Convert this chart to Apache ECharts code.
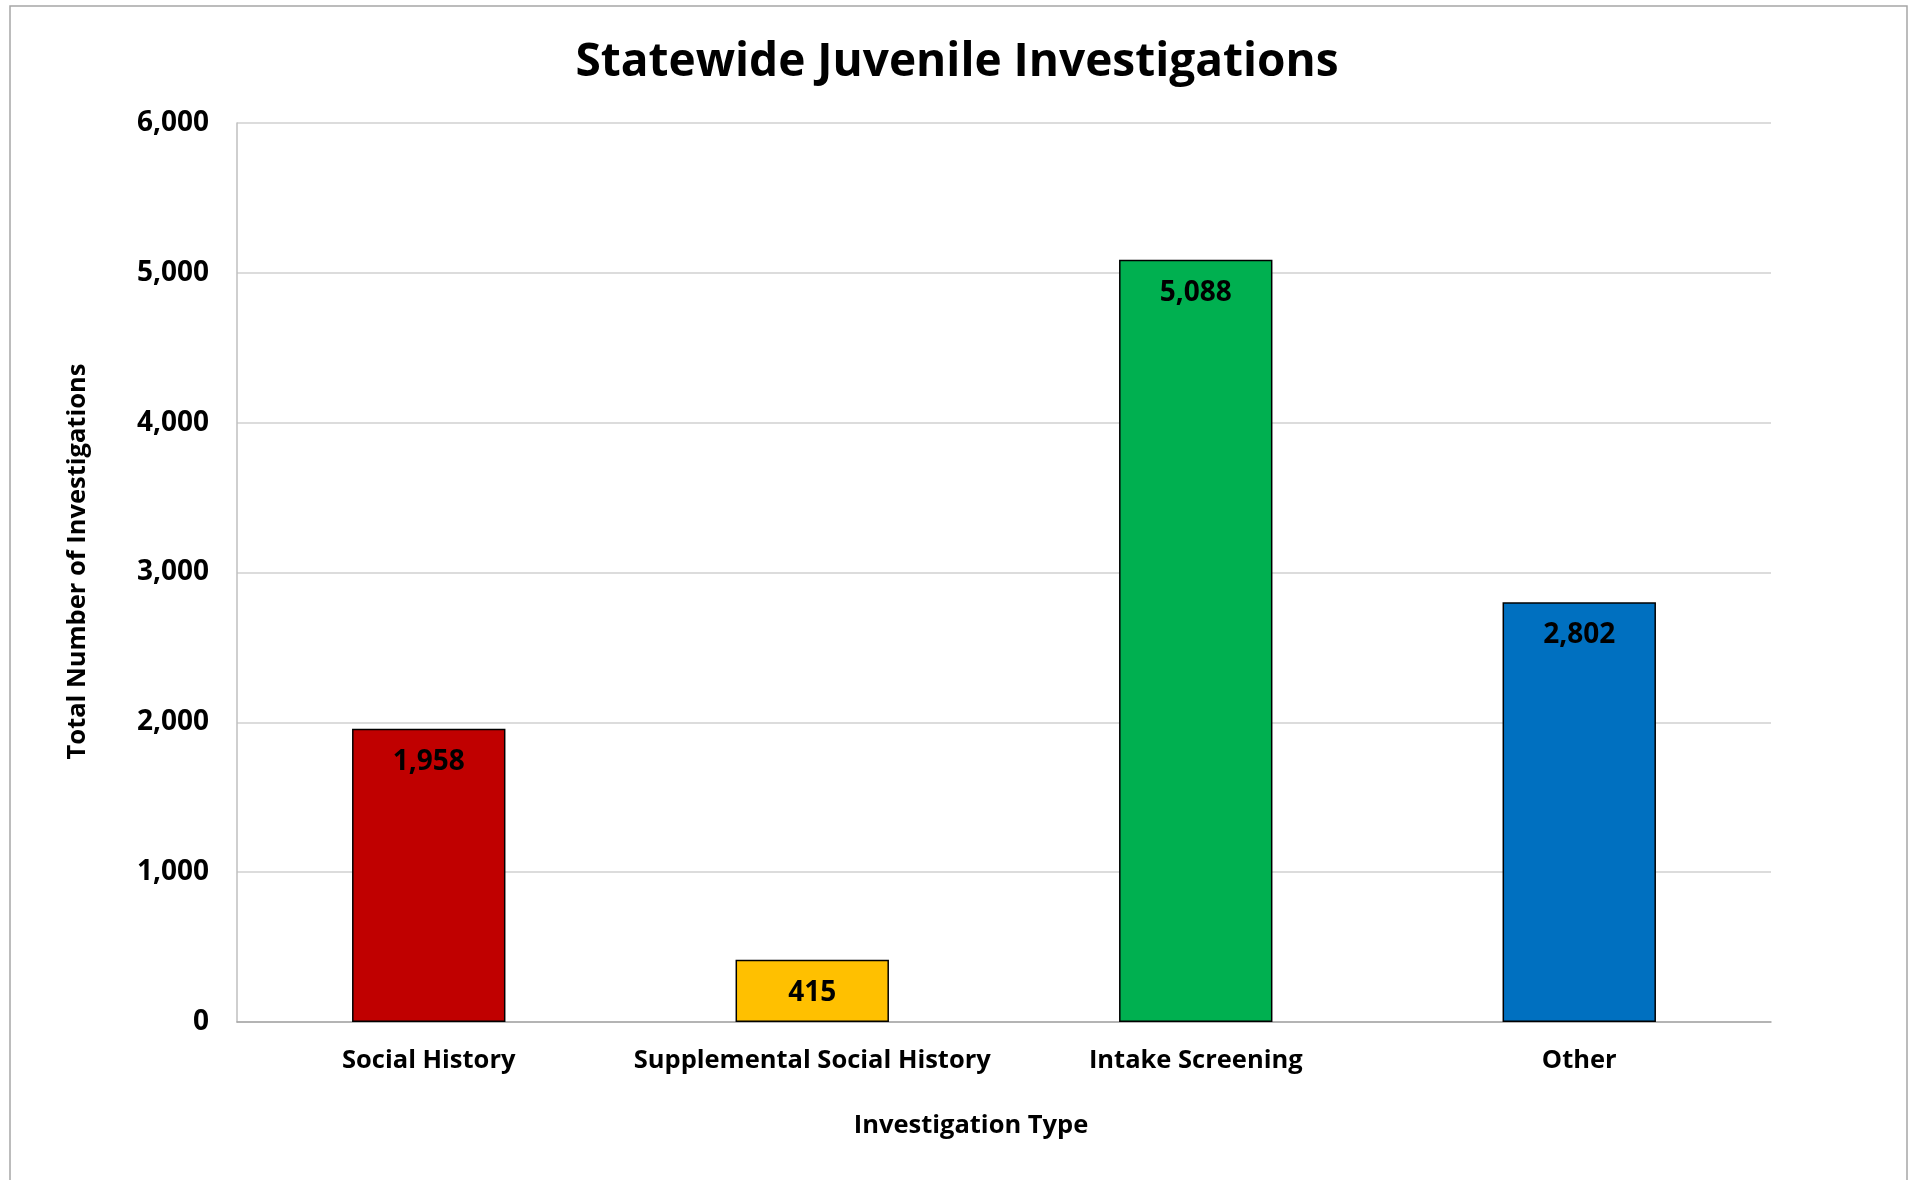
<!DOCTYPE html>
<html>
<head>
<meta charset="utf-8">
<style>
html,body{margin:0;padding:0;background:#fff;}
#c{width:1914px;height:1180px;}
</style>
<script src="https://cdn.jsdelivr.net/npm/echarts@6/dist/echarts.min.js"></script>
</head>
<body>
<div id="c"></div>
<script>
const categories = ["Social History", "Supplemental Social History", "Intake Screening", "Other"];
const values = [1958, 415, 5088, 2802];
const barColors = ["#C00000", "#FFC000", "#00B050", "#0070C0"];
const yTicks = [0, 1000, 2000, 3000, 4000, 5000, 6000];

const FONT = "Open Sans";
const chart = echarts.init(document.getElementById('c'), null, {renderer: 'canvas'});
chart.setOption({
  backgroundColor: '#fff',
  animation: false,
  graphic: [{
    type: 'rect', silent: true, z: -1,
    shape: {x: 10, y: 6, width: 1897, height: 1250},
    style: {fill: 'none', stroke: '#A6A6A6', lineWidth: 1.5}
  }],
  title: {
    text: 'Statewide Juvenile Investigations',
    left: 'center', top: 40, padding: 0,
    textStyle: {fontFamily: FONT, fontWeight: 'bold', fontSize: 46, color: '#000'}
  },
  grid: {left: 237, right: 143, top: 123, bottom: 158},
  xAxis: {
    type: 'category',
    data: categories,
    name: 'Investigation Type',
    nameLocation: 'middle',
    nameGap: 91,
    nameTextStyle: {fontFamily: FONT, fontWeight: 'bold', fontSize: 25.5, color: '#000', padding: [0, 66, 0, 0]},
    axisLine: {lineStyle: {color: '#A6A6A6', width: 1.5}},
    axisTick: {show: false},
    axisLabel: {interval: 0, fontFamily: FONT, fontWeight: 'bold', fontSize: 25.5, color: '#000', margin: 26}
  },
  yAxis: {
    type: 'value',
    min: 0, max: 6000, interval: 1000,
    name: 'Total Number of Investigations',
    nameLocation: 'middle',
    nameGap: 146,
    nameTextStyle: {fontFamily: FONT, fontWeight: 'bold', fontSize: 25.5, color: '#000', padding: [0, 0, 0, 22]},
    axisLine: {show: true, lineStyle: {color: '#BFBFBF', width: 1.5}},
    axisTick: {show: false},
    splitLine: {lineStyle: {color: '#D0D0D0', width: 1.5}},
    axisLabel: {
      fontFamily: FONT, fontWeight: 'bold', fontSize: 28, color: '#000', margin: 28,
      formatter: v => yTicks.includes(v) ? v.toLocaleString('en-US') : ''
    }
  },
  series: [{
    type: 'bar',
    data: values.map((v, i) => ({value: v, itemStyle: {color: barColors[i]}})),
    barWidth: '40%',
    itemStyle: {borderColor: '#000', borderWidth: 1.5},
    label: {
      show: true, position: 'insideTop', distance: 19,
      fontFamily: FONT, fontWeight: 'bold', fontSize: 28, color: '#000',
      formatter: p => p.value.toLocaleString('en-US')
    }
  }]
});
</script>
</body>
</html>
